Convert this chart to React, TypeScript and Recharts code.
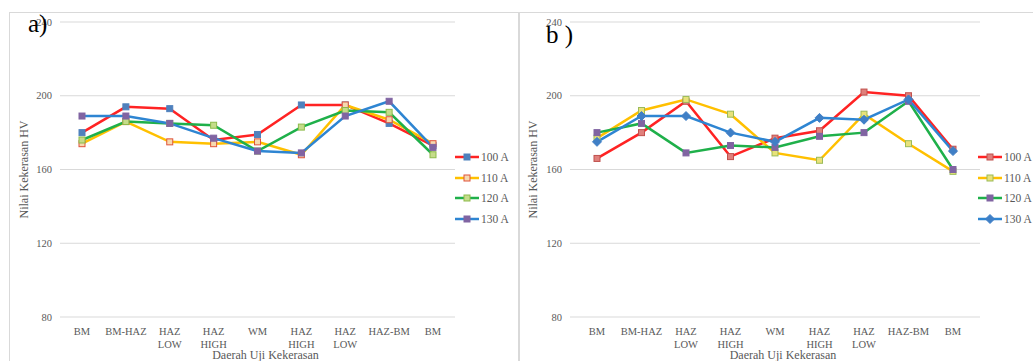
import { LineChart, Line, XAxis, YAxis, CartesianGrid, Legend } from "recharts";

const categories = ["BM", "BM-HAZ", "HAZ LOW", "HAZ HIGH", "WM", "HAZ HIGH", "HAZ LOW", "HAZ-BM", "BM"];
const yTicks = [80, 120, 160, 200, 240];

// panel a
const a100 = [180, 194, 193, 176, 179, 195, 195, 185, 173];
const a110 = [174, 186, 175, 174, 175, 168, 195, 187, 174];
const a120 = [176, 186, 185, 184, 170, 183, 192, 191, 168];
const a130 = [189, 189, 185, 177, 170, 169, 189, 197, 172];

// panel b
const b100 = [166, 180, 197, 167, 177, 181, 202, 200, 171];
const b110 = [177, 192, 198, 190, 169, 165, 190, 174, 159];
const b120 = [180, 185, 169, 173, 172, 178, 180, 197, 160];
const b130 = [175, 189, 189, 180, 175, 188, 187, 198, 170];

const seriesNames = ["100 A", "110 A", "120 A", "130 A"];

const FONT = "Liberation Serif, Times New Roman, serif";
const GREY = "#595959";

const RED = "#ff2323";
const YELLOW = "#ffc000";
const GREEN = "#1fb04a";
const BLUE = "#2e85d2";

type MarkerDef = { shape: "square" | "diamond"; fill: string; stroke: string };
type Series = { key: string; name: string; color: string; marker: MarkerDef };

const seriesA: Series[] = [
  { key: "v100", name: seriesNames[0], color: RED, marker: { shape: "square", fill: "#4f81bd", stroke: "#4f81bd" } },
  { key: "v110", name: seriesNames[1], color: YELLOW, marker: { shape: "square", fill: "#f6d9b0", stroke: "#e0533b" } },
  { key: "v120", name: seriesNames[2], color: GREEN, marker: { shape: "square", fill: "#c5dc8a", stroke: "#8dbb4a" } },
  { key: "v130", name: seriesNames[3], color: BLUE, marker: { shape: "square", fill: "#8064a2", stroke: "#8064a2" } },
];

const seriesB: Series[] = [
  { key: "v100", name: seriesNames[0], color: RED, marker: { shape: "square", fill: "#e0807c", stroke: "#c0504d" } },
  { key: "v110", name: seriesNames[1], color: YELLOW, marker: { shape: "square", fill: "#e8e27a", stroke: "#9bbb59" } },
  { key: "v120", name: seriesNames[2], color: GREEN, marker: { shape: "square", fill: "#8064a2", stroke: "#8064a2" } },
  { key: "v130", name: seriesNames[3], color: BLUE, marker: { shape: "diamond", fill: "#3f7fc6", stroke: "#3f7fc6" } },
];

const build = (s: number[][]) =>
  categories.map((name, i) => ({ name, v100: s[0][i], v110: s[1][i], v120: s[2][i], v130: s[3][i] }));

const dataA = build([a100, a110, a120, a130]);
const dataB = build([b100, b110, b120, b130]);

function Marker({ cx, cy, m }: { cx?: number; cy?: number; m: MarkerDef }) {
  if (cx == null || cy == null) return null;
  if (m.shape === "diamond") {
    const r = 4.5;
    return (
      <polygon
        points={`${cx},${cy - r} ${cx + r},${cy} ${cx},${cy + r} ${cx - r},${cy}`}
        fill={m.fill}
        stroke={m.stroke}
      />
    );
  }
  return <rect x={cx - 3} y={cy - 3} width={6} height={6} fill={m.fill} stroke={m.stroke} strokeWidth={1} />;
}

function CatTick({ x, y, payload }: any) {
  const lines = String(payload.value).split(" ");
  return (
    <text x={x} y={y} textAnchor="middle" fill={GREY} style={{ fontFamily: FONT, fontSize: 10.5 }}>
      {lines.map((l, i) => (
        <tspan key={i} x={x} dy={i === 0 ? 10 : 12.5}>
          {l}
        </tspan>
      ))}
    </text>
  );
}

function LegendBox({ series }: { series: Series[] }) {
  return (
    <div>
      {series.map((s) => (
        <div key={s.key} style={{ display: "flex", alignItems: "center", height: 20.6 }}>
          <svg width={25} height={10} style={{ marginRight: 1 }}>
            <line x1={0} y1={5} x2={24} y2={5} stroke={s.color} strokeWidth={2.5} />
            <Marker cx={12} cy={5} m={s.marker} />
          </svg>
          <span style={{ fontFamily: FONT, fontSize: 11.5, color: GREY, whiteSpace: "nowrap" }}>{s.name}</span>
        </div>
      ))}
    </div>
  );
}

function Panel({
  data,
  series,
  width,
  margin,
  yAxisWidth,
  legendLeft,
  yLabelOffset,
  pad,
}: {
  data: any[];
  series: Series[];
  width: number;
  margin: { top: number; right: number; bottom: number; left: number };
  yAxisWidth: number;
  legendLeft: number;
  yLabelOffset: number;
  pad: number;
}) {
  return (
    <LineChart width={width} height={361} data={data} margin={margin} style={{ fontFamily: FONT }}>
      <CartesianGrid vertical={false} stroke="#d9d9d9" />
      <XAxis
        dataKey="name"
        axisLine={false}
        tickLine={false}
        interval={0}
        height={44}
        padding={{ left: pad, right: pad }}
        tick={<CatTick />}
        label={{
          value: "Daerah Uji Kekerasan",
          position: "insideBottom",
          offset: 2,
          dx: 8,
          style: { fontFamily: FONT, fontSize: 12, fill: GREY },
        }}
      />
      <YAxis
        domain={[80, 240]}
        ticks={yTicks}
        width={yAxisWidth}
        axisLine={false}
        tickLine={false}
        tick={{ fill: GREY, style: { fontFamily: FONT, fontSize: 10.5 } }}
        label={{
          value: "Nilai Kekerasan  HV",
          angle: -90,
          position: "insideLeft",
          offset: yLabelOffset,
          style: { fontFamily: FONT, fontSize: 12, fill: GREY, textAnchor: "middle" },
        }}
      />
      <Legend
        layout="horizontal"
        verticalAlign="middle"
        wrapperStyle={{ left: legendLeft, top: 147, width: 70 }}
        content={() => <LegendBox series={series} />}
      />
      {series.map((s) => (
        <Line
          key={s.key}
          dataKey={s.key}
          name={s.name}
          stroke={s.color}
          strokeWidth={2.5}
          isAnimationActive={false}
          dot={(p: any) => <Marker key={p.index} cx={p.cx} cy={p.cy} m={s.marker} />}
          activeDot={false}
        />
      ))}
    </LineChart>
  );
}

export default function App() {
  return (
    <div
      style={{
        position: "absolute",
        left: 0,
        top: 0,
        width: 1033,
        height: 361,
        overflow: "hidden",
        background: "#fff",
        fontFamily: FONT,
      }}
    >
      <div style={{ position: "absolute", left: 9, top: 12, width: 509, height: 400, border: "1px solid #d9d9d9" }} />
      <div style={{ position: "absolute", left: 518, top: 12, width: 600, height: 400, border: "1px solid #d9d9d9" }} />

      <div style={{ position: "absolute", left: 0, top: 0 }}>
        <Panel
          data={dataA}
          series={seriesA}
          width={520}
          margin={{ top: 22, right: 65, bottom: 0, left: 10 }}
          yAxisWidth={50}
          legendLeft={455}
          yLabelOffset={14}
          pad={22}
        />
      </div>
      <div style={{ position: "absolute", left: 515, top: 0 }}>
        <Panel
          data={dataB}
          series={seriesB}
          width={518}
          margin={{ top: 22, right: 53, bottom: 0, left: 10 }}
          yAxisWidth={45}
          legendLeft={463}
          yLabelOffset={8}
          pad={27}
        />
      </div>

      <div style={{ position: "absolute", left: 28, top: 10, fontSize: 25, color: "#000" }}>a)</div>
      <div style={{ position: "absolute", left: 546, top: 21, fontSize: 25, color: "#000" }}>b )</div>
    </div>
  );
}
